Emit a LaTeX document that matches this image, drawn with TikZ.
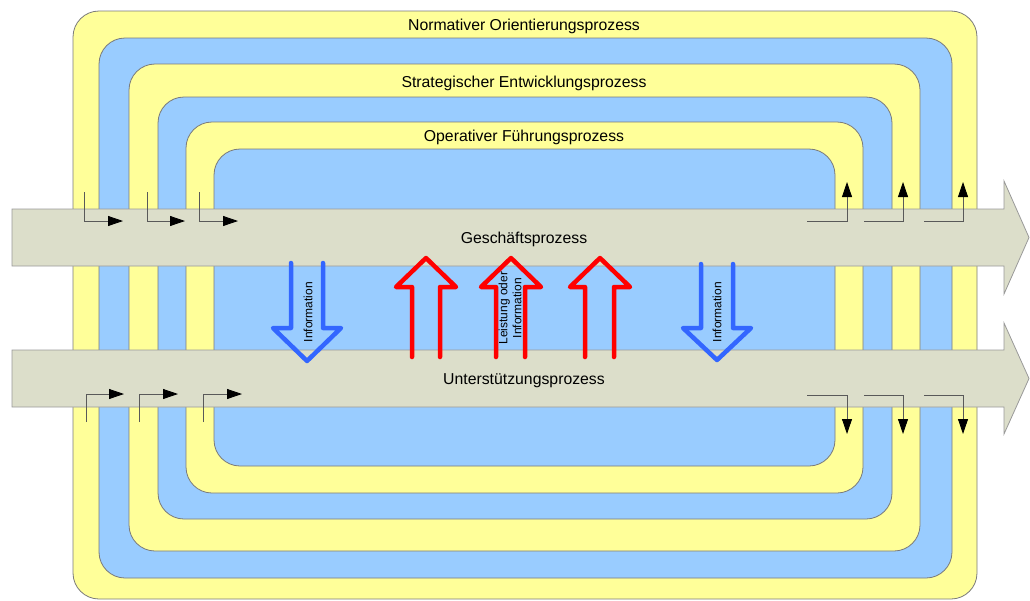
\documentclass[tikz,border=0pt]{standalone}
\usepackage{fontspec}
\setmainfont{Liberation Sans}
\usetikzlibrary{arrows.meta}

\definecolor{bandyellow}{HTML}{FFFF99}
\definecolor{bandblue}{HTML}{99CCFF}
\definecolor{procfill}{HTML}{DCDECA}
\definecolor{edgegray}{HTML}{7A7A7A}
\definecolor{infoblue}{HTML}{3366FF}
\definecolor{leistred}{HTML}{FF0000}

\tikzset{
  band/.style={draw=edgegray, line width=0.8pt, rounded corners=26pt},
  yband/.style={band, fill=bandyellow},
  bband/.style={band, fill=bandblue},
  proc/.style={draw=black!40, line width=0.8pt, fill=procfill},
  flow/.style={draw=black!65, line width=0.8pt,
    -{Triangle[length=15pt,width=10pt,color=black]}},
  hollow/.style={line width=4.5pt, line join=round, line cap=round},
  title/.style={font=\fontsize{15.8}{18}\selectfont, inner sep=0pt},
  vlabel/.style={font=\fontsize{12}{14}\selectfont, inner sep=0pt,
    rotate=90, align=center},
}

\begin{document}
\begin{tikzpicture}[x=1pt,y=-1pt]
\useasboundingbox (0,0) rectangle (1030,600);

% nested process bands
\draw[yband] (73,11)  rectangle (977,599);
\draw[bband] (99,38)  rectangle (952,578);
\draw[yband] (129,64) rectangle (920,551);
\draw[bband] (158,97) rectangle (892,519);
\draw[yband] (186,122) rectangle (863,493);
\draw[bband] (214,149) rectangle (835,466);

\node[title] (norm) at (524,26)  {Normativer Orientierungsprozess};
\node[title] (strat) at (524,83) {Strategischer Entwicklungsprozess};
\node[title] (oper) at (524,137) {Operativer Führungsprozess};

% main process arrows
\draw[proc] (12,209) -- (1004,209) -- (1004,181) -- (1029,237.5)
  -- (1004,294) -- (1004,266) -- (12,266) -- cycle;
\draw[proc] (12,350) -- (1004,350) -- (1004,323) -- (1029,378.5)
  -- (1004,434) -- (1004,407) -- (12,407) -- cycle;

\node[title] (gesch) at (524,239) {Geschäftsprozess};
\node[title] (unter) at (524,381) {Unterstützungsprozess};

% entries into the business process
\foreach \i/\xa/\xb in {1/84/123, 2/147/185, 3/199/238} {
  \coordinate (gin\i) at (\xa,192);
  \coordinate (gend\i) at (\xb,221);
  \draw[flow] (gin\i) |- (gend\i);
}
% entries into the support process
\foreach \i/\xa/\xb in {1/86/124, 2/139/178, 3/203/242} {
  \coordinate (uin\i) at (\xa,422);
  \coordinate (uend\i) at (\xb,394);
  \draw[flow] (uin\i) |- (uend\i);
}
% exits from the business process
\foreach \i/\xa/\xb in {1/807/847, 2/864/903, 3/924/963} {
  \coordinate (gout\i) at (\xa,221);
  \coordinate (gtop\i) at (\xb,182);
  \draw[flow] (gout\i) -| (gtop\i);
}
% exits from the support process
\foreach \i/\xa/\xb in {1/807/847, 2/864/903, 3/924/963} {
  \coordinate (uout\i) at (\xa,395);
  \coordinate (ubot\i) at (\xb,434);
  \draw[flow] (uout\i) -| (ubot\i);
}

% information flowing down
\draw[hollow, infoblue] (291,263) -- (291,328) -- (273,328) -- (307,361)
  -- (341,328) -- (323,328) -- (323,263);
\draw[hollow, infoblue] (701,264) -- (701,328) -- (683,328) -- (717,360)
  -- (751,328) -- (733,328) -- (733,264);

% services flowing up
\draw[hollow, leistred] (412,357) -- (412,287) -- (396,287) -- (426,258)
  -- (456,287) -- (440,287) -- (440,357);
\draw[hollow, leistred] (496,357) -- (496,287) -- (481,287) -- (511,258)
  -- (541,287) -- (525,287) -- (525,357);
\draw[hollow, leistred] (585,357) -- (585,287) -- (570,287) -- (600,258)
  -- (630,287) -- (614,287) -- (614,357);

\node[vlabel] (info1) at (308,312) {Information};
\node[vlabel] (info2) at (717,312) {Information};
\node[vlabel] (leist) at (510,308) {Leistung oder\\Information};

\end{tikzpicture}
\end{document}
